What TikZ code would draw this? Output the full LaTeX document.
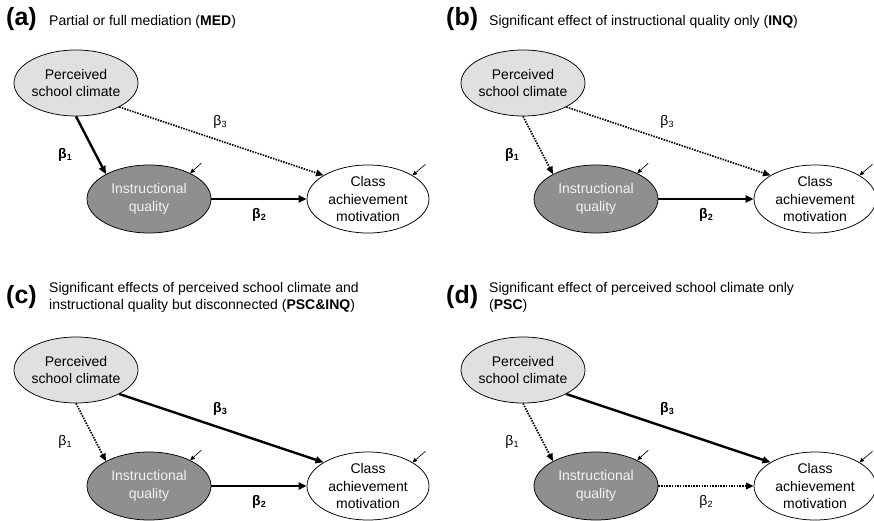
\documentclass[tikz,border=0pt]{standalone}
\usepackage{fontspec}
\setmainfont{Liberation Sans}
\usetikzlibrary{shapes.geometric,arrows.meta,calc}
\definecolor{pscgray}{HTML}{E0E0E0}
\definecolor{iqgray}{HTML}{8F8F8F}
\definecolor{iqtext}{HTML}{F2F2F2}
\newcommand\nodefont{\fontsize{14}{17.5}\selectfont}
\newcommand\biglab{\fontsize{25}{28}\selectfont\bfseries}
\newcommand\ttlfont{\fontsize{14}{17}\selectfont}
\newcommand\mypanel[9]{%
\begin{scope}[shift={(#1,#2)}, name prefix=#3-]
 \node[pscn] (psc) at (76,83) {Perceived\\school climate};
 \node[iqn] (iq) at (149,199) {Instructional\\quality};
 \node[camn] (cam) at (368,199) {Class\\achievement\\motivation};
 \draw[#4] (psc.south) -- (iq.150);
 \draw[#6] (iq.east) -- (cam.west);
 \draw[#8] (psc.-29) -- (cam.152);
 \node[blab] (b1) at (65,155) {#5};
 \node[blab] (b2) at (259,215) {#7};
 \node[blab] (b3) at (220,122) {#9};
 \coordinate (riq) at ($(iq.32)+(11,-10)$);
 \coordinate (rcam) at ($(cam.28)+(13,-11)$);
 \draw[res] (riq) -- (iq.32);
 \draw[res] (rcam) -- (cam.28);
\end{scope}}
\newcommand\sub[1]{\raisebox{-0.25ex}{\fontsize{9}{10}\selectfont #1}}
\begin{document}
\begin{tikzpicture}[x=1pt,y=-1pt,
 ell/.style={ellipse, draw, line width=0.75pt, minimum width=124pt, minimum height=66pt, inner sep=-8pt, align=center, font=\nodefont},
 pscn/.style={ell, fill=pscgray},
 iqn/.style={ell, fill=iqgray, text=iqtext, minimum height=68pt},
 camn/.style={ell, fill=white, minimum width=122pt, minimum height=68pt},
 sig/.style={line width=2.4pt, -{Triangle[length=8pt,width=7pt]}},
 ns/.style={line width=1.7pt, dash pattern=on 1.5pt off 1.2pt, -{Triangle[length=7.5pt,width=6.5pt]}},
 res/.style={line width=0.65pt, -{Triangle[length=4.5pt,width=4pt]}},
 blab/.style={font=\nodefont, inner sep=0pt},
 plab/.style={anchor=base west, inner sep=0pt, font=\biglab},
 ttl/.style={anchor=base west, inner sep=0pt, font=\ttlfont},
 ttl2/.style={anchor=north west, inner sep=0pt, font=\ttlfont, align=left},
]
\useasboundingbox[fill=white] (0,0) rectangle (874,521);

\node[plab] (la) at (6,26) {(a)};
\node[ttl] (ta) at (49,26) {Partial or full mediation (\textbf{MED})};
\node[plab] (lb) at (446,26) {(b)};
\node[ttl] (tb) at (489,26) {Significant effect of instructional quality only (\textbf{INQ})};
\node[plab] (lc) at (6,303) {(c)};
\node[ttl2] (tc) at (49,282.5) {Significant effects of perceived school climate and\\instructional quality but disconnected (\textbf{PSC\&INQ})};
\node[plab] (ld) at (446,303) {(d)};
\node[ttl2] (td) at (489,282.5) {Significant effect of perceived school climate only\\(\textbf{PSC})};

\mypanel{0}{0}{a}{sig}{\textbf{β\sub{1}}}{sig}{\textbf{β\sub{2}}}{ns}{β\sub{3}}
\mypanel{447}{0}{b}{ns}{\textbf{β\sub{1}}}{sig}{\textbf{β\sub{2}}}{ns}{β\sub{3}}
\mypanel{0}{287}{c}{ns}{β\sub{1}}{sig}{\textbf{β\sub{2}}}{sig}{\textbf{β\sub{3}}}
\mypanel{447}{287}{d}{ns}{β\sub{1}}{ns}{β\sub{2}}{sig}{\textbf{β\sub{3}}}
\end{tikzpicture}
\end{document}
